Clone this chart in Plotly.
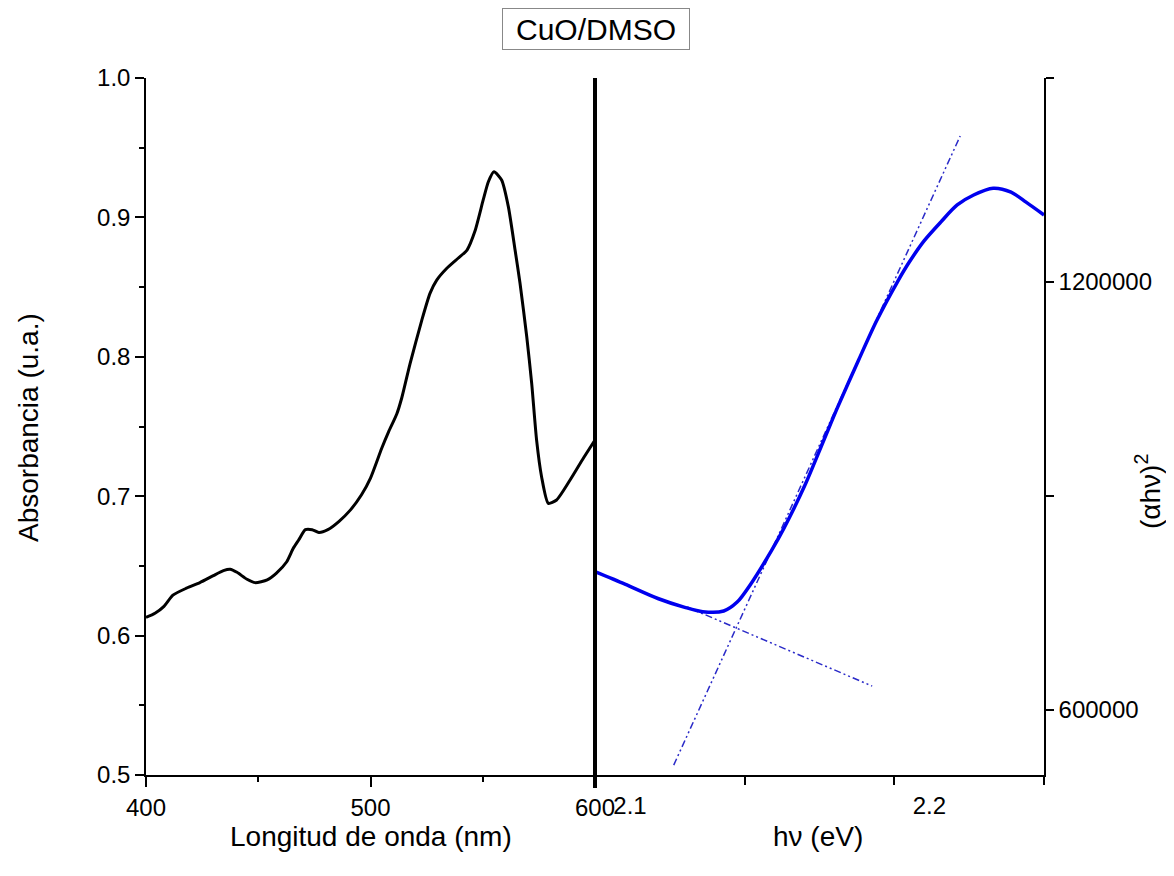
import plotly.graph_objects as go

# ---------------- data ----------------
wavelength_nm = [400, 404, 408, 412, 418, 424, 430, 434.5, 437.5, 440.5, 445, 448.6, 454, 458,
                 462.7, 465.6, 468, 471, 474, 477, 481, 486, 491, 496, 500, 505, 508, 511.7,
                 514, 517.6, 522.8, 526.5, 529.5, 534, 539, 543, 546.5, 550.2, 552.5, 555,
                 558.4, 561.4, 564.4, 566.6, 569.6, 571.8, 574, 576.2, 579.2, 582.9, 588.9,
                 594.8, 600]
absorbance = [0.613, 0.616, 0.621, 0.629, 0.634, 0.638, 0.643, 0.6466, 0.6476, 0.6454, 0.6404,
              0.638, 0.640, 0.6447, 0.653, 0.6626, 0.6686, 0.676, 0.676, 0.674, 0.676, 0.682,
              0.690, 0.701, 0.713, 0.7344, 0.746, 0.759, 0.771, 0.795, 0.826, 0.8455, 0.855,
              0.8635, 0.8707, 0.8766, 0.890, 0.9125, 0.9256, 0.9328, 0.9268, 0.9077, 0.8766,
              0.8527, 0.8144, 0.781, 0.740, 0.714, 0.6949, 0.6973, 0.7116, 0.7272, 0.7403]

energy_ev = [2.100, 2.110, 2.121, 2.130, 2.136, 2.143, 2.1475, 2.152, 2.159, 2.163, 2.170,
             2.1765, 2.181, 2.188, 2.194, 2.201, 2.205, 2.210, 2.2155, 2.221, 2.2265, 2.233,
             2.239, 2.244, 2.250]
alpha_hv_sq = [794000, 776500, 756400, 744000, 737900, 738900, 751400, 776500, 824000, 854000,
               914000, 978900, 1023900, 1090000, 1145000, 1200000, 1228000, 1258000, 1284000,
               1308000, 1322000, 1331500, 1326000, 1312000, 1294000]

# tangent (fit) lines
steep_x = [2.1263, 2.222]
steep_y = [522900, 1404700]
base_x = [2.1308, 2.1926]
base_y = [744400, 633600]

left_xticks = [400, 500, 600]
left_yticks = [0.5, 0.6, 0.7, 0.8, 0.9, 1.0]
right_xticks = [2.1, 2.2]
right_xminor = [2.15, 2.25]
right_yticks = [600000, 1200000]
right_yminor = [900000, 1486000]

OFF = 8  # page body margin in the browser
W, H = 1174 - 2 * OFF, 876 - 2 * OFF
FONT = "Arial, Liberation Sans, sans-serif"

def px_x(p):
    return (p - OFF) / W

def px_y(p):
    return 1 - (p - OFF) / H

fig = go.Figure()

fig.add_trace(go.Scatter(x=wavelength_nm, y=absorbance, mode="lines",
                         line=dict(color="black", width=3, shape="spline", smoothing=0.6),
                         xaxis="x", yaxis="y", showlegend=False))

DASH = "7px,3px,2px,3px,2px,3px"
fig.add_trace(go.Scatter(x=base_x, y=base_y, mode="lines",
                         line=dict(color="#2a2ac8", width=1.5, dash=DASH),
                         xaxis="x2", yaxis="y2", showlegend=False))
fig.add_trace(go.Scatter(x=steep_x, y=steep_y, mode="lines",
                         line=dict(color="#2a2ac8", width=1.5, dash=DASH),
                         xaxis="x2", yaxis="y2", showlegend=False))
fig.add_trace(go.Scatter(x=energy_ev, y=alpha_hv_sq, mode="lines",
                         line=dict(color="#0000ee", width=3.5, shape="spline", smoothing=0.8),
                         xaxis="x2", yaxis="y2", showlegend=False))

x_left_dom = [px_x(146), px_x(595)]
x_right_dom = [px_x(595), px_x(1044)]
y_dom = [px_y(775), px_y(78)]

axis_common = dict(showline=True, linecolor="black", linewidth=1.5, showgrid=False,
                   zeroline=False, ticks="outside", tickcolor="black", tickwidth=1.5,
                   automargin=False,
                   tickfont=dict(family=FONT, size=24, color="black"))

fig.update_layout(
    template="none",
    width=W, height=H,
    margin=dict(l=0, r=0, t=0, b=0),
    paper_bgcolor="white", plot_bgcolor="white",
    xaxis=dict(domain=x_left_dom, range=[400, 600], anchor="y",
               tickvals=left_xticks, ticklen=10,
               minor=dict(dtick=50, tick0=400, ticks="outside", ticklen=5,
                          tickcolor="black", tickwidth=1.5),
               **axis_common),
    yaxis=dict(domain=y_dom, range=[0.5, 1.0], anchor="x",
               tickvals=left_yticks, tickformat=".1f", ticklen=9,
               ticksuffix="\u00a0\u200a",
               minor=dict(dtick=0.05, tick0=0.5, ticks="outside", ticklen=5,
                          tickcolor="black", tickwidth=1.5),
               **axis_common),
    xaxis2=dict(domain=x_right_dom, range=[2.1, 2.25], anchor="y2",
                tickvals=right_xticks, tickformat=".1f", ticklen=8,
                ticklabelshift=35,
                minor=dict(tickvals=right_xminor, ticks="outside", ticklen=8,
                           tickcolor="black", tickwidth=1.5),
                **axis_common),
    yaxis2=dict(domain=y_dom, range=[509000, 1486000], anchor="x2", side="right",
                tickvals=right_yticks, tickformat="d", ticklen=8,
                minor=dict(tickvals=right_yminor, ticks="outside", ticklen=8,
                           tickcolor="black", tickwidth=1.5),
                **axis_common),
)

# thick black separator line between panels
fig.add_shape(type="line", xref="paper", yref="paper",
              x0=px_x(595), x1=px_x(595), y0=px_y(788), y1=px_y(78),
              line=dict(color="black", width=4))

# title box
fig.add_annotation(text="CuO/DMSO", xref="paper", yref="paper",
                   x=px_x(596), y=px_y(29), xanchor="center", yanchor="middle",
                   showarrow=False, font=dict(family=FONT, size=30, color="black"),
                   bordercolor="#888888", borderwidth=1, borderpad=3,
                   width=180, height=34)

# axis titles
fig.add_annotation(text="Longitud de onda (nm)", xref="paper", yref="paper",
                   x=px_x(371), y=px_y(836), xanchor="center", yanchor="middle",
                   showarrow=False, font=dict(family=FONT, size=28, color="black"))
fig.add_annotation(text="h\u03bd (eV)", xref="paper", yref="paper",
                   x=px_x(818), y=px_y(836), xanchor="center", yanchor="middle",
                   showarrow=False, font=dict(family=FONT, size=28, color="black"))
fig.add_annotation(text="Absorbancia (u.a.)", xref="paper", yref="paper",
                   x=px_x(28), y=px_y(428), xanchor="center", yanchor="middle",
                   textangle=-90, showarrow=False,
                   font=dict(family=FONT, size=28, color="black"))
fig.add_annotation(text="(\u03b1h\u03bd)<sup>2</sup>", xref="paper", yref="paper",
                   x=px_x(1148), y=px_y(492), xanchor="center", yanchor="middle",
                   textangle=-90, showarrow=False,
                   font=dict(family=FONT, size=28, color="black"))

fig.write_html("out.html")
